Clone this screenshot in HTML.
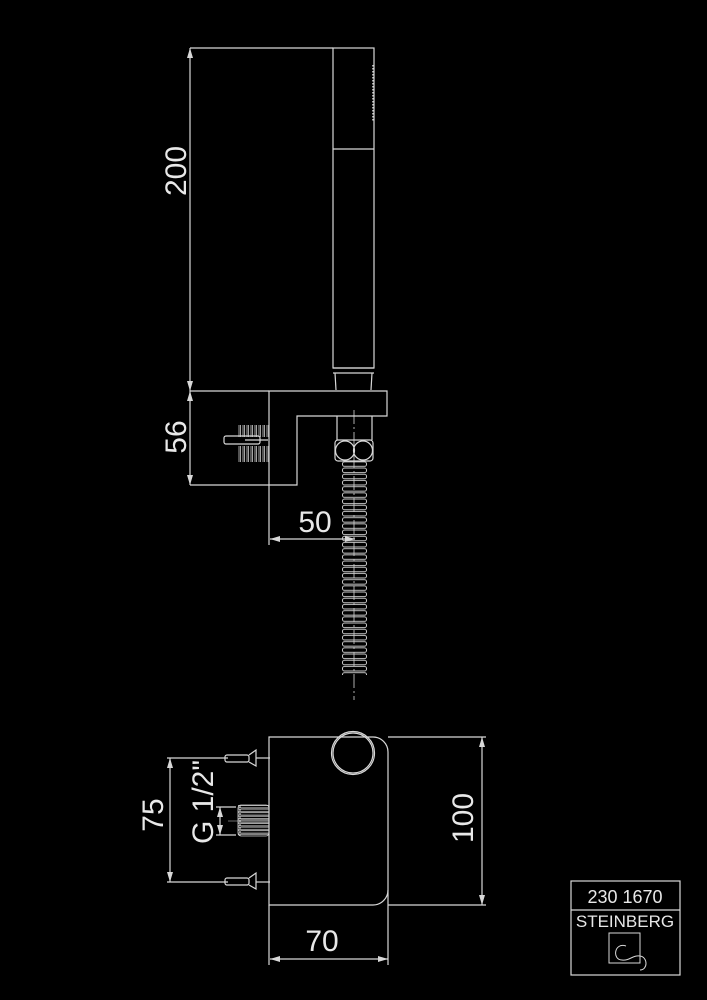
<!DOCTYPE html>
<html><head><style>html,body{margin:0;padding:0;background:#000}svg{display:block}</style></head><body>
<svg width="707" height="1000" viewBox="0 0 707 1000" xmlns="http://www.w3.org/2000/svg" font-family="Liberation Sans, sans-serif">
<defs>
<pattern id="hose" x="342" y="461" width="26" height="6.2" patternUnits="userSpaceOnUse">
<rect x="0.5" y="0.8" width="24" height="4.6" rx="2" fill="none" stroke="#ccc" stroke-width="1"/>
</pattern>
<pattern id="thr" x="0" y="0" width="4" height="40" patternUnits="userSpaceOnUse">
<rect x="0.5" y="0" width="2.5" height="40" rx="1.2" fill="none" stroke="#ccc" stroke-width="0.8"/>
</pattern>
<pattern id="thrh" x="0" y="805" width="40" height="3.6" patternUnits="userSpaceOnUse">
<rect x="0" y="0.5" width="40" height="2.4" rx="1.2" fill="none" stroke="#ccc" stroke-width="0.8"/>
</pattern>
</defs>
<g fill="none" stroke="#d8d8d8" stroke-width="1.2">
<rect x="333" y="48" width="41" height="320"/>
<line x1="333" y1="149" x2="374" y2="149"/>
<line x1="333" y1="373" x2="374" y2="373"/>
<line x1="333" y1="368" x2="374" y2="368"/>
<line x1="335" y1="373" x2="336" y2="390"/>
<line x1="372" y1="373" x2="371" y2="390"/>
<line x1="373" y1="65" x2="373" y2="122" stroke-dasharray="1.5 1.5" stroke-width="1.5"/>
<path d="M269 391 H387 V416 H297 V485 H269 Z"/>
<line x1="337" y1="416" x2="337" y2="440"/>
<line x1="372" y1="416" x2="372" y2="440"/>
<rect x="335" y="440" width="38" height="21" rx="3"/>
<circle cx="345" cy="450.5" r="9.5"/>
<circle cx="363" cy="450.5" r="9.5"/>
<line x1="354" y1="410" x2="354" y2="700" stroke-dasharray="14 3 2 3" stroke-width="0.8"/>
<rect x="342" y="461" width="26" height="214" fill="url(#hose)" stroke="none"/>
<rect x="238" y="425" width="31" height="12" fill="url(#thr)" stroke="none"/>
<rect x="238" y="446" width="31" height="16" fill="url(#thr)" stroke="none"/>
<rect x="224" y="436" width="36" height="8" rx="2"/>
<line x1="245" y1="440" x2="268" y2="440"/>
<line x1="190" y1="48" x2="333" y2="48"/>
<line x1="190" y1="391" x2="269" y2="391"/>
<line x1="190" y1="485" x2="269" y2="485"/>
<line x1="190" y1="48" x2="190" y2="485"/>
<line x1="269" y1="485" x2="269" y2="545"/>
<line x1="270" y1="539" x2="355" y2="539"/>
<path d="M269 737 H373 A15 15 0 0 1 388 752 V890 A15 15 0 0 1 373 905 H269 Z"/>
<circle cx="353" cy="753" r="21.5"/>
<circle cx="353" cy="753" r="20"/>
<line x1="388" y1="737" x2="486" y2="737"/>
<line x1="388" y1="905" x2="486" y2="905"/>
<line x1="482" y1="737" x2="482" y2="905"/>
<line x1="269" y1="905" x2="269" y2="965"/>
<line x1="388" y1="890" x2="388" y2="965"/>
<line x1="270" y1="959" x2="388" y2="959"/>
<line x1="167" y1="758" x2="228" y2="758"/>
<line x1="167" y1="882" x2="228" y2="882"/>
<line x1="170" y1="758" x2="170" y2="882"/>
<line x1="216" y1="807" x2="236" y2="807"/>
<line x1="216" y1="835" x2="236" y2="835"/>
<line x1="220" y1="807" x2="220" y2="835"/>
<line x1="228" y1="821" x2="269" y2="821" stroke-width="0.6"/>
<rect x="238" y="805" width="31" height="31" fill="url(#thrh)" stroke="none"/>
<rect x="238" y="805" width="31" height="31" rx="3" stroke-width="0.8"/>
<rect x="225" y="755" width="24" height="7" rx="2"/>
<path d="M249 755 L256 750 V766 L249 762"/>
<line x1="256" y1="758" x2="270" y2="758"/>
<rect x="225" y="878" width="24" height="7" rx="2"/>
<path d="M249 878 L256 873 V889 L249 885"/>
<line x1="256" y1="882" x2="270" y2="882"/>
<rect x="571" y="881" width="109" height="94"/>
<line x1="571" y1="910" x2="680" y2="910"/>
<rect x="609" y="933" width="31" height="30" stroke-width="1"/>
<path d="M626 946 C614 942 612 960 622 960 C630 961 632 955 640 956 C648 957 648 970 640 970" stroke-width="1"/>
</g>
<g fill="#d8d8d8">
<path d="M190 48 l-3 10 h6 z M190 391 l-3 -10 h6 z M190 391 l-3 10 h6 z M190 485 l-3 -10 h6 z"/>
<path d="M270 539 l10 -3 v6 z M355 539 l-10 -3 v6 z"/>
<path d="M482 737 l-3 10 h6 z M482 905 l-3 -10 h6 z"/>
<path d="M270 959 l10 -3 v6 z M388 959 l-10 -3 v6 z"/>
<path d="M170 758 l-3 10 h6 z M170 882 l-3 -10 h6 z"/>
<path d="M220 807 l-3 10 h6 z M220 835 l-3 -10 h6 z"/>
</g>
<g fill="#e8e8e8" font-size="30">
<text transform="translate(186 171) rotate(-90)" text-anchor="middle">200</text>
<text transform="translate(186 437) rotate(-90)" text-anchor="middle">56</text>
<text x="315" y="532" text-anchor="middle">50</text>
<text transform="translate(163 815) rotate(-90)" text-anchor="middle">75</text>
<text transform="translate(213 802) rotate(-90)" text-anchor="middle">G 1/2"</text>
<text transform="translate(473 818) rotate(-90)" text-anchor="middle">100</text>
<text x="322" y="951" text-anchor="middle">70</text>
<text x="625" y="903" font-size="18" text-anchor="middle">230 1670</text>
<text x="625" y="927" font-size="17" text-anchor="middle">STEINBERG</text>
</g>
</svg>
</body></html>
